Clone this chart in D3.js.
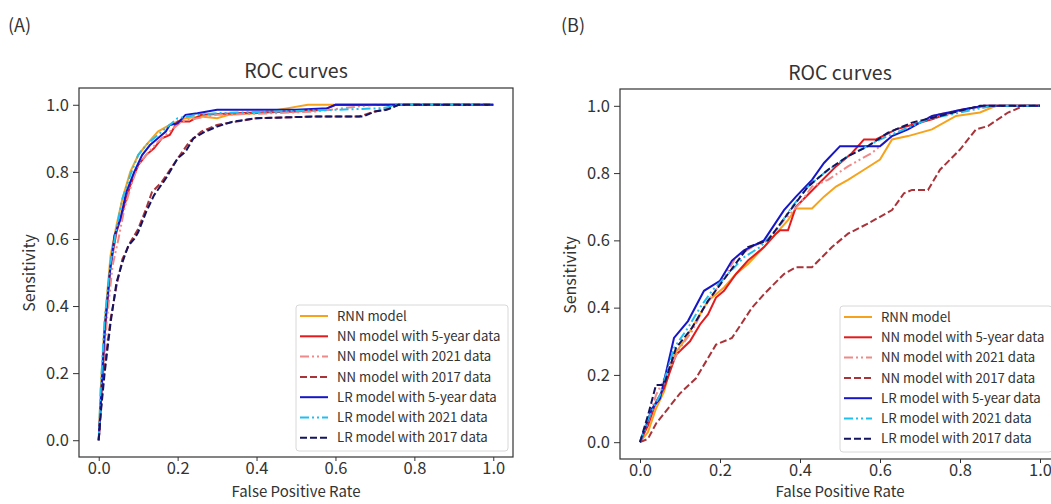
<!DOCTYPE html>
<html>
<head>
<meta charset="utf-8">
<script src="https://cdn.jsdelivr.net/npm/d3@7"></script>
<style>
  body { margin: 0; background: #fff; }
  text { font-family: "Noto Sans CJK JP", "Noto Sans", sans-serif; fill: #333; }
</style>
</head>
<body>
<svg id="chart" width="1051" height="504"></svg>
<script>
// series names (legend order)
var seriesNames = ["RNN model", "NN model with 5-year data", "NN model with 2021 data",
  "NN model with 2017 data", "LR model with 5-year data", "LR model with 2021 data", "LR model with 2017 data"];
var xTicks = [0, 0.2, 0.4, 0.6, 0.8, 1.0];
var yTicks = [0, 0.2, 0.4, 0.6, 0.8, 1.0];

// panel A: [false positive rate, sensitivity]
var A_rnn = [[0,0],[0.005,0.15],[0.015,0.35],[0.03,0.55],[0.045,0.64],[0.06,0.72],[0.08,0.80],[0.1,0.85],[0.12,0.88],[0.15,0.92],[0.18,0.94],[0.22,0.96],[0.26,0.965],[0.3,0.96],[0.33,0.97],[0.4,0.975],[0.48,0.99],[0.53,1.0],[1,1]];
var A_nn5 = [[0,0],[0.006,0.12],[0.016,0.33],[0.03,0.52],[0.045,0.62],[0.06,0.68],[0.08,0.76],[0.1,0.82],[0.12,0.85],[0.14,0.87],[0.16,0.9],[0.18,0.91],[0.2,0.95],[0.23,0.95],[0.26,0.97],[0.35,0.975],[0.5,0.98],[0.57,0.985],[0.6,1.0],[1,1]];
var A_nn21 = [[0,0],[0.006,0.1],[0.02,0.35],[0.035,0.52],[0.05,0.6],[0.065,0.69],[0.085,0.77],[0.1,0.82],[0.12,0.85],[0.15,0.89],[0.18,0.92],[0.21,0.95],[0.25,0.96],[0.3,0.97],[0.45,0.975],[0.55,0.98],[0.62,0.99],[0.7,1.0],[1,1]];
var A_nn17 = [[0,0],[0.006,0.1],[0.015,0.22],[0.03,0.36],[0.045,0.46],[0.06,0.54],[0.08,0.59],[0.1,0.63],[0.12,0.69],[0.135,0.74],[0.16,0.77],[0.2,0.84],[0.23,0.89],[0.26,0.92],[0.3,0.94],[0.35,0.95],[0.4,0.96],[0.55,0.965],[0.66,0.965],[0.7,0.98],[0.74,0.99],[0.76,1.0],[1,1]];
var A_lr5 = [[0,0],[0.006,0.13],[0.015,0.33],[0.028,0.5],[0.04,0.61],[0.055,0.66],[0.07,0.74],[0.09,0.8],[0.11,0.85],[0.13,0.88],[0.15,0.9],[0.17,0.92],[0.18,0.94],[0.2,0.945],[0.22,0.97],[0.25,0.975],[0.3,0.985],[0.5,0.985],[0.58,0.99],[0.6,1.0],[1,1]];
var A_lr21 = [[0,0],[0.005,0.15],[0.015,0.36],[0.03,0.53],[0.045,0.63],[0.06,0.72],[0.08,0.79],[0.1,0.85],[0.12,0.88],[0.15,0.91],[0.2,0.96],[0.25,0.97],[0.3,0.975],[0.45,0.98],[0.6,0.985],[0.72,0.99],[0.76,1.0],[1,1]];
var A_lr17 = [[0,0],[0.005,0.08],[0.015,0.2],[0.03,0.35],[0.045,0.47],[0.06,0.53],[0.075,0.58],[0.09,0.6],[0.1,0.62],[0.12,0.68],[0.14,0.73],[0.17,0.78],[0.2,0.84],[0.22,0.86],[0.24,0.9],[0.27,0.92],[0.3,0.935],[0.34,0.95],[0.4,0.96],[0.55,0.965],[0.67,0.965],[0.7,0.98],[0.73,0.985],[0.76,1.0],[1,1]];

// panel B
var B_rnn = [[0,0],[0.02,0.03],[0.04,0.1],[0.06,0.15],[0.085,0.26],[0.11,0.3],[0.14,0.36],[0.17,0.42],[0.21,0.46],[0.24,0.5],[0.27,0.53],[0.31,0.58],[0.34,0.62],[0.37,0.66],[0.39,0.695],[0.43,0.695],[0.46,0.73],[0.49,0.76],[0.52,0.78],[0.56,0.81],[0.6,0.84],[0.63,0.9],[0.67,0.91],[0.73,0.93],[0.79,0.97],[0.85,0.98],[0.89,1.0],[1,1]];
var B_nn5 = [[0,0],[0.02,0.05],[0.04,0.12],[0.06,0.16],[0.09,0.26],[0.125,0.3],[0.15,0.35],[0.17,0.38],[0.19,0.43],[0.21,0.45],[0.24,0.5],[0.27,0.54],[0.31,0.58],[0.34,0.62],[0.35,0.63],[0.37,0.63],[0.39,0.7],[0.44,0.76],[0.49,0.82],[0.53,0.86],[0.56,0.9],[0.59,0.9],[0.64,0.93],[0.73,0.96],[0.79,0.985],[0.86,1.0],[1,1]];
var B_nn21 = [[0,0],[0.02,0.06],[0.04,0.14],[0.07,0.21],[0.1,0.28],[0.13,0.33],[0.16,0.4],[0.2,0.47],[0.24,0.55],[0.28,0.58],[0.32,0.6],[0.36,0.66],[0.4,0.71],[0.43,0.76],[0.47,0.78],[0.52,0.82],[0.58,0.86],[0.64,0.92],[0.7,0.95],[0.73,0.97],[0.81,0.99],[0.9,1.0],[1,1]];
var B_nn17 = [[0,0],[0.02,0.01],[0.04,0.055],[0.07,0.1],[0.1,0.145],[0.14,0.19],[0.19,0.29],[0.23,0.31],[0.28,0.4],[0.31,0.44],[0.36,0.5],[0.39,0.52],[0.43,0.52],[0.48,0.58],[0.52,0.62],[0.57,0.65],[0.6,0.67],[0.63,0.69],[0.66,0.74],[0.68,0.75],[0.72,0.75],[0.75,0.81],[0.8,0.87],[0.84,0.93],[0.87,0.94],[0.92,0.98],[0.96,1.0],[1,1]];
var B_lr5 = [[0,0],[0.03,0.1],[0.05,0.13],[0.085,0.31],[0.12,0.36],[0.16,0.45],[0.2,0.48],[0.23,0.54],[0.26,0.57],[0.31,0.6],[0.36,0.69],[0.39,0.73],[0.43,0.78],[0.46,0.83],[0.5,0.88],[0.56,0.88],[0.6,0.88],[0.63,0.91],[0.67,0.93],[0.73,0.97],[0.81,0.99],[0.86,1.0],[1,1]];
var B_lr21 = [[0,0],[0.02,0.07],[0.05,0.14],[0.085,0.28],[0.12,0.34],[0.15,0.4],[0.18,0.45],[0.22,0.5],[0.26,0.55],[0.3,0.58],[0.34,0.63],[0.38,0.7],[0.42,0.76],[0.46,0.8],[0.52,0.85],[0.6,0.9],[0.66,0.93],[0.72,0.96],[0.8,0.98],[0.88,1.0],[1,1]];
var B_lr17 = [[0,0],[0.02,0.08],[0.04,0.17],[0.06,0.17],[0.09,0.28],[0.13,0.34],[0.17,0.42],[0.22,0.5],[0.27,0.58],[0.32,0.6],[0.37,0.68],[0.42,0.76],[0.47,0.81],[0.52,0.85],[0.57,0.88],[0.62,0.92],[0.68,0.95],[0.75,0.97],[0.85,1.0],[1,1]];

var styles = [
  { color: "#f7a21b", dash: null },
  { color: "#e41a1c", dash: null },
  { color: "#f08a8a", dash: "9,3,2,3,2,3" },
  { color: "#a8343a", dash: "7,3" },
  { color: "#1616c8", dash: null },
  { color: "#1ec0f0", dash: "9,3,2,3,2,3" },
  { color: "#141460", dash: "7,3" }
];

var svg = d3.select("#chart");

function drawPanel(cfg) {
  var g = svg.append("g");
  var x = d3.scaleLinear().domain([-0.05, 1.05]).range([cfg.left, cfg.left + cfg.width]);
  var y = d3.scaleLinear().domain([-0.05, 1.05]).range([cfg.bottom, cfg.top]);

  g.append("text").attr("x", cfg.labelX).attr("y", 32).style("font-size", "18px").text(cfg.label);
  g.append("text").attr("x", cfg.left + cfg.width / 2).attr("y", cfg.titleY).attr("text-anchor", "middle")
    .style("font-size", "19.5px").text("ROC curves");

  var clipId = "clip" + cfg.label.replace(/\W/g, "");
  g.append("clipPath").attr("id", clipId).append("rect")
    .attr("x", cfg.left).attr("y", cfg.top).attr("width", cfg.width).attr("height", cfg.bottom - cfg.top);

  var line = d3.line().x(function (d) { return x(d[0]); }).y(function (d) { return y(d[1]); });

  g.append("g").attr("clip-path", "url(#" + clipId + ")")
    .selectAll("path").data(cfg.series).enter().append("path")
    .attr("d", line)
    .attr("fill", "none")
    .attr("stroke", function (d, i) { return styles[i].color; })
    .attr("stroke-width", 2)
    .attr("stroke-dasharray", function (d, i) { return styles[i].dash; });

  // axes
  var xAxis = g.append("g").attr("transform", "translate(0," + cfg.bottom + ")")
    .call(d3.axisBottom(x).tickValues(xTicks).tickFormat(d3.format(".1f")).tickSize(4).tickPadding(1));
  var yAxis = g.append("g").attr("transform", "translate(" + cfg.left + ",0)")
    .call(d3.axisLeft(y).tickValues(yTicks).tickFormat(d3.format(".1f")).tickSize(6).tickPadding(4));
  [xAxis, yAxis].forEach(function (a) {
    a.select(".domain").remove();
    a.selectAll("line").attr("stroke", "#333");
    a.selectAll("text").style("font-size", "16.5px").style("font-family", null).attr("fill", "#333");
  });

  g.append("rect").attr("x", cfg.left).attr("y", cfg.top).attr("width", cfg.width)
    .attr("height", cfg.bottom - cfg.top).attr("fill", "none").attr("stroke", "#333").attr("stroke-width", 1.2);

  g.append("text").attr("x", cfg.left + cfg.width / 2).attr("y", 497).attr("text-anchor", "middle")
    .style("font-size", "15px").text("False Positive Rate");
  g.append("text").attr("transform", "translate(" + cfg.ylabX + "," + cfg.ylabY + ") rotate(-90)")
    .attr("text-anchor", "middle").style("font-size", "16px").text("Sensitivity");

  // legend
  var lg = g.append("g").attr("transform", "translate(" + cfg.legX + "," + cfg.legY + ")");
  lg.append("rect").attr("x", 0).attr("y", 0).attr("width", 212).attr("height", 146).attr("rx", 3)
    .attr("fill", "#fff").attr("fill-opacity", 0.85).attr("stroke", "#d8d8d8");
  seriesNames.forEach(function (name, i) {
    var yy = 11 + i * 20.3;
    lg.append("line").attr("x1", 4).attr("x2", 32).attr("y1", yy).attr("y2", yy)
      .attr("stroke", styles[i].color).attr("stroke-width", 2).attr("stroke-dasharray", styles[i].dash);
    lg.append("text").attr("x", 41).attr("y", yy).attr("dy", "0.35em").style("font-size", "13.2px").text(name);
  });
}

drawPanel({ label: "(A)", labelX: 8, titleY: 78, left: 79, width: 434, top: 88, bottom: 457, ylabX: 35, ylabY: 273,
  legX: 296, legY: 305, series: [A_rnn, A_nn5, A_nn21, A_nn17, A_lr5, A_lr21, A_lr17] });
drawPanel({ label: "(B)", labelX: 561, titleY: 80, left: 620, width: 440, top: 89, bottom: 459, ylabX: 576, ylabY: 275,
  legX: 840, legY: 306, series: [B_rnn, B_nn5, B_nn21, B_nn17, B_lr5, B_lr21, B_lr17] });
</script>
</body>
</html>
